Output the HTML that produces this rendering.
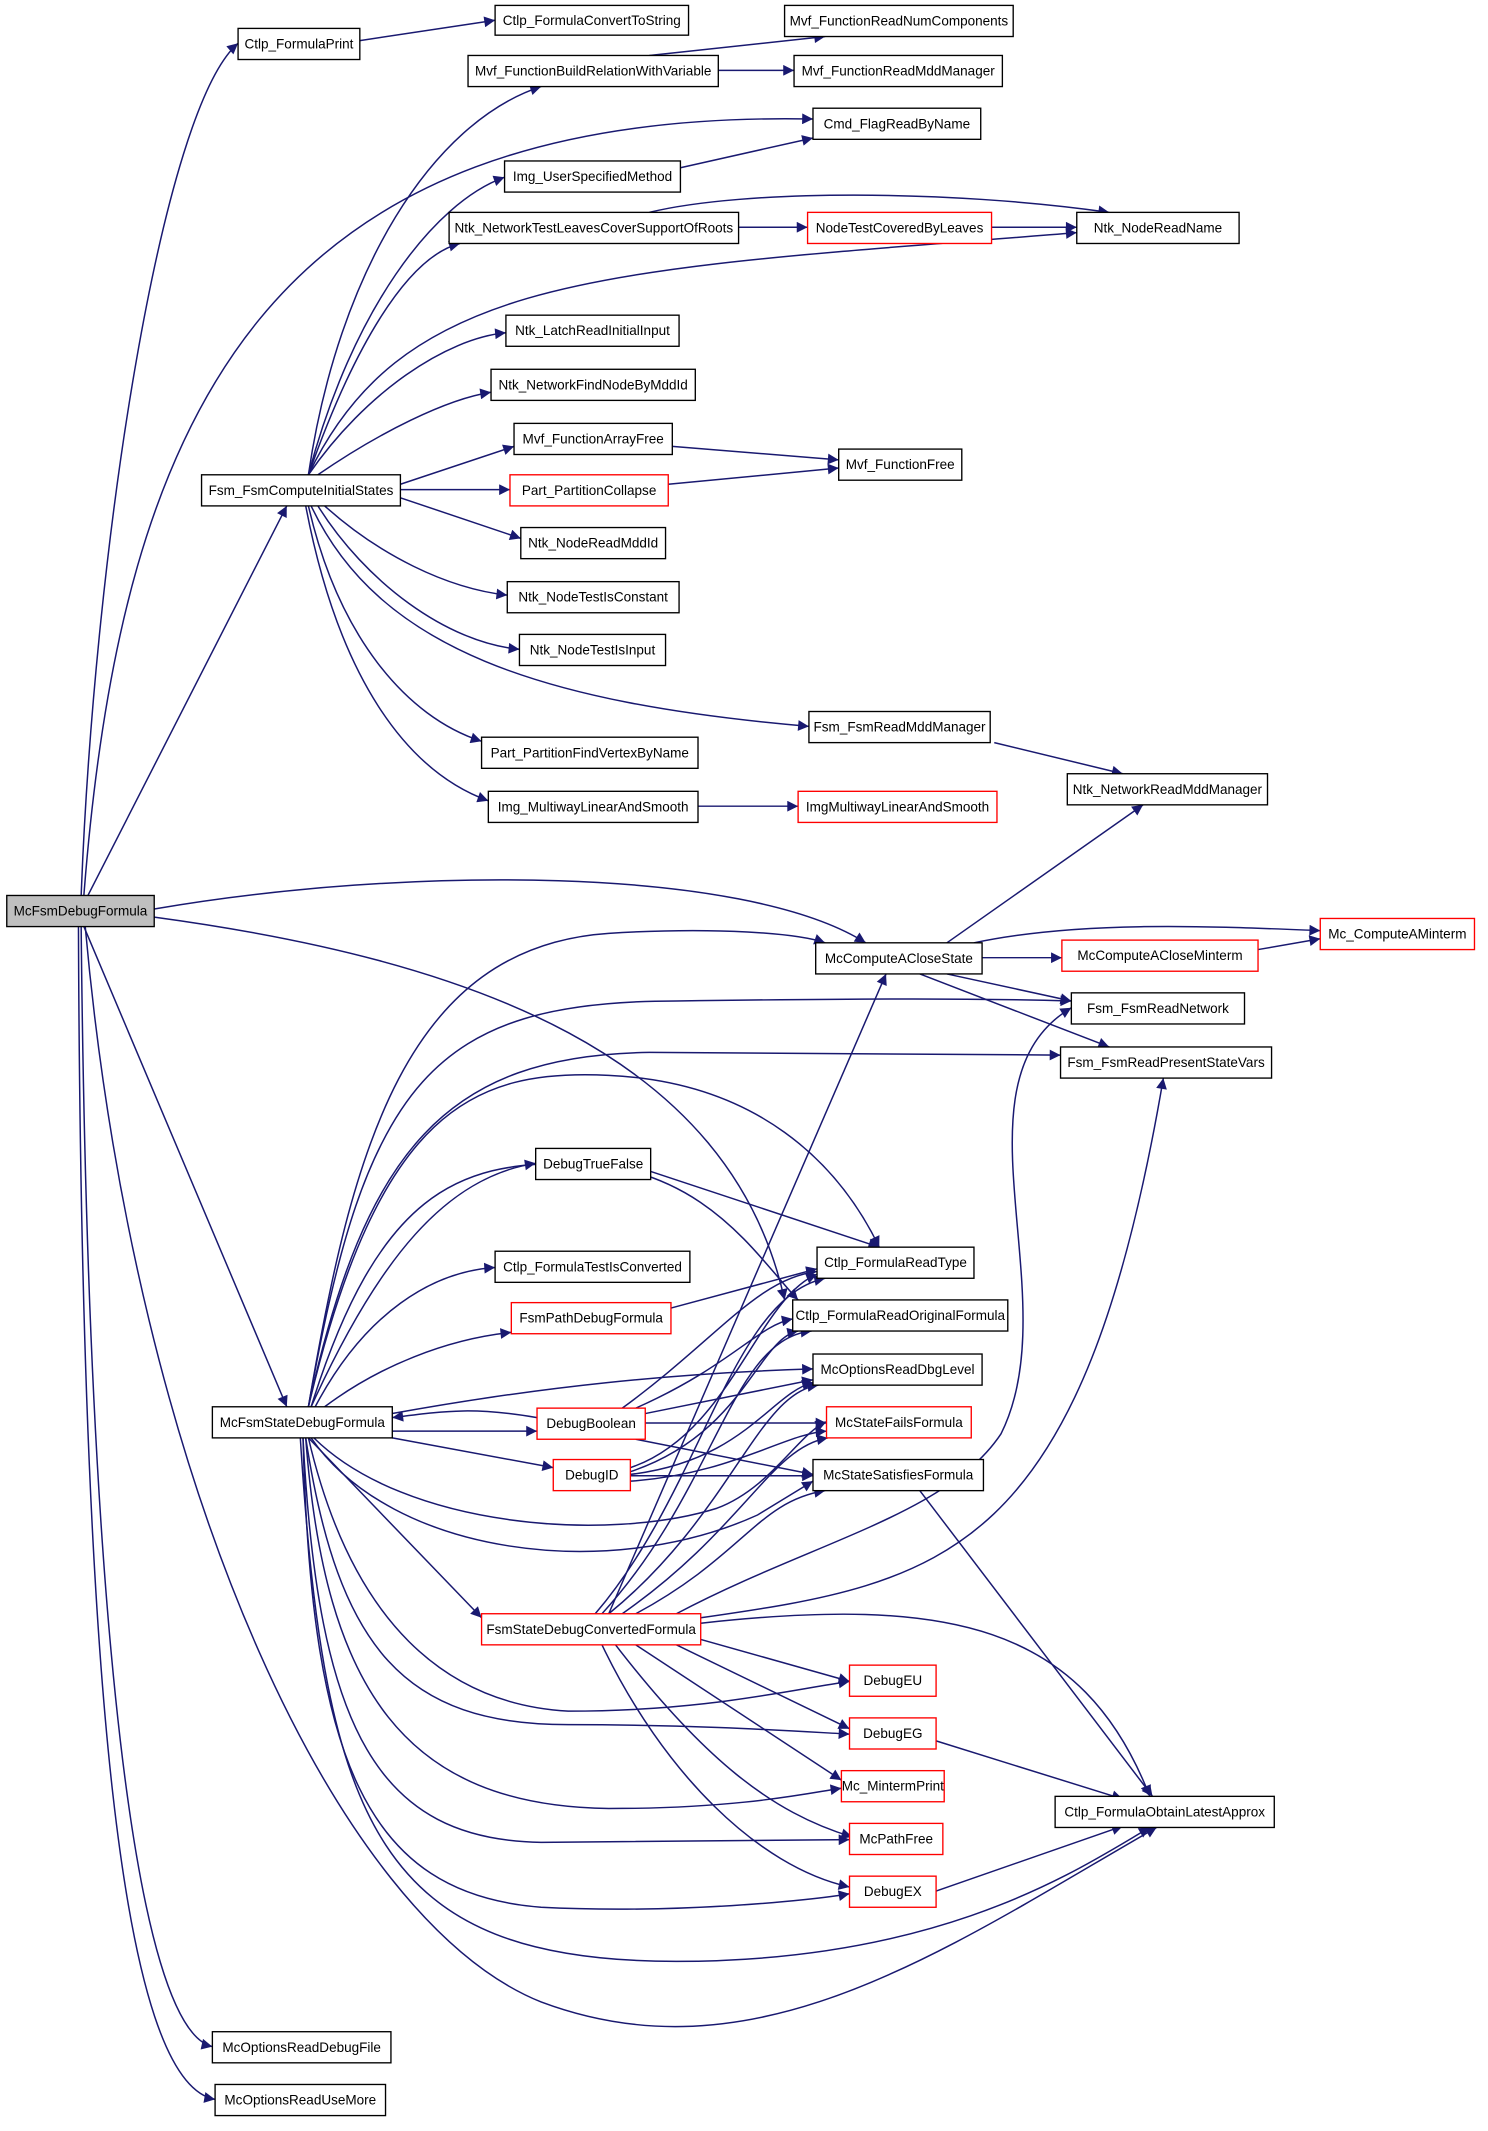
<!DOCTYPE html>
<html><head><meta charset="utf-8"><style>
html,body{margin:0;padding:0;background:#fff;}
svg{display:block;}
text{font-family:"Liberation Sans",sans-serif;font-size:10px;fill:#000;text-anchor:middle;dominant-baseline:central;}
.e{fill:none;stroke:#191970;stroke-width:1.1;marker-end:url(#a);}
.n{fill:#fff;stroke:#000;stroke-width:1;}
.r{fill:#fff;stroke:#ff0000;stroke-width:1;}
</style></head><body>
<svg width="1488" height="2131" viewBox="0 0 1100 1575.4" preserveAspectRatio="none" xmlns="http://www.w3.org/2000/svg">
<defs><marker id="a" viewBox="0 0 10 10" refX="10" refY="5" markerWidth="10" markerHeight="8" markerUnits="userSpaceOnUse" orient="auto"><path d="M0,0 L10,5 L0,10 z" fill="#191970"/></marker></defs>
<g>
<path class="e" d="M60,662 C70,400 120,80 176,32"/>
<path class="e" d="M62,662 C90,300 200,80 601,88"/>
<path class="e" d="M65,662 L212,374"/>
<path class="e" d="M114,672 C300,640 550,640 640,697"/>
<path class="e" d="M114,678 C350,710 540,780 580,961"/>
<path class="e" d="M62,685 L212,1040"/>
<path class="e" d="M63,685 C100,1100 250,1420 400,1480 C560,1540 700,1440 855,1351"/>
<path class="e" d="M60,685 C65,1200 100,1500 157,1513"/>
<path class="e" d="M58,685 C60,1250 90,1540 159,1552"/>
<path class="e" d="M228,351 C250,200 320,90 400,64"/>
<path class="e" d="M228,351 C260,230 320,150 373,131"/>
<path class="e" d="M228,351 C260,260 300,190 340,180"/>
<path class="e" d="M228,351 C300,200 450,200 796,172"/>
<path class="e" d="M228,351 C270,290 330,250 374,246"/>
<path class="e" d="M235,351 C280,320 330,295 363,290"/>
<path class="e" d="M296,358 L380,330"/>
<path class="e" d="M296,362 L377,362"/>
<path class="e" d="M296,368 L385,398"/>
<path class="e" d="M240,374 C280,410 330,435 375,440"/>
<path class="e" d="M235,374 C270,430 330,475 384,480"/>
<path class="e" d="M230,374 C280,480 400,520 598,537"/>
<path class="e" d="M228,374 C250,470 300,530 356,548"/>
<path class="e" d="M226,374 C250,500 300,570 361,592"/>
<path class="e" d="M266,30 L366,15"/>
<path class="e" d="M480,41 L610,27"/>
<path class="e" d="M531,52 L587,52"/>
<path class="e" d="M503,124 L601,102"/>
<path class="e" d="M546,168 L597,168"/>
<path class="e" d="M480,157 C550,140 700,140 820,157"/>
<path class="e" d="M733,168 L796,168"/>
<path class="e" d="M497,330 L620,340"/>
<path class="e" d="M494,358 L620,346"/>
<path class="e" d="M735,549 L830,572"/>
<path class="e" d="M516,596 L590,596"/>
<path class="e" d="M700,697 L845,595"/>
<path class="e" d="M720,697 C800,680 900,685 976,688"/>
<path class="e" d="M726,708 L785,708"/>
<path class="e" d="M930,702 L976,694"/>
<path class="e" d="M700,720 L792,740"/>
<path class="e" d="M680,720 L820,774"/>
<path class="e" d="M228,1040 C260,850 300,700 450,690 C530,685 590,690 610,697"/>
<path class="e" d="M228,1040 C270,800 320,740 500,740 C650,738 720,738 792,740"/>
<path class="e" d="M228,1040 C270,850 330,780 480,778 L784,780"/>
<path class="e" d="M228,1040 C280,820 350,790 450,795 C560,800 620,860 650,922"/>
<path class="e" d="M230,1040 C280,930 330,870 396,860"/>
<path class="e" d="M230,1040 C280,880 340,860 420,860 C520,860 560,930 590,961"/>
<path class="e" d="M233,1040 C270,970 320,940 366,937"/>
<path class="e" d="M240,1040 C280,1010 330,990 378,985"/>
<path class="e" d="M290,1045 C400,1025 500,1015 601,1012"/>
<path class="e" d="M290,1058 L397,1058"/>
<path class="e" d="M397,1048 C350,1040 330,1043 290,1048"/>
<path class="e" d="M290,1063 L409,1085"/>
<path class="e" d="M232,1063 C300,1130 450,1140 530,1115 C570,1100 590,1060 611,1051"/>
<path class="e" d="M230,1063 C290,1150 450,1170 560,1120 L601,1095"/>
<path class="e" d="M228,1063 L356,1196"/>
<path class="e" d="M228,1063 C260,1200 330,1260 420,1265 C520,1265 580,1250 628,1243"/>
<path class="e" d="M226,1063 C250,1220 300,1275 420,1275 C520,1275 590,1280 628,1282"/>
<path class="e" d="M226,1063 C240,1250 300,1335 450,1337 C550,1337 600,1325 622,1322"/>
<path class="e" d="M224,1063 C235,1280 280,1360 400,1362 L628,1360"/>
<path class="e" d="M224,1063 C230,1300 270,1400 400,1410 C500,1415 600,1405 628,1400"/>
<path class="e" d="M222,1063 C240,1350 280,1450 500,1450 C700,1450 800,1380 850,1351"/>
<path class="e" d="M460,1041 C530,990 560,945 604,940"/>
<path class="e" d="M470,1041 C540,1010 560,980 586,975"/>
<path class="e" d="M477,1045 L601,1020"/>
<path class="e" d="M477,1052 L611,1052"/>
<path class="e" d="M470,1064 L601,1090"/>
<path class="e" d="M466,1085 C540,1060 560,960 604,942"/>
<path class="e" d="M466,1088 C550,1060 560,990 590,984"/>
<path class="e" d="M466,1090 C550,1080 570,1030 601,1022"/>
<path class="e" d="M466,1095 C540,1090 580,1060 611,1058"/>
<path class="e" d="M466,1091 L601,1091"/>
<path class="e" d="M450,1193 L655,720"/>
<path class="e" d="M500,1193 C600,1140 700,1120 740,1060 C790,960 700,800 792,745"/>
<path class="e" d="M518,1196 C700,1170 800,1150 860,797"/>
<path class="e" d="M440,1193 C520,1100 540,960 610,945"/>
<path class="e" d="M445,1193 C530,1100 540,990 600,984"/>
<path class="e" d="M450,1193 C540,1120 560,1030 605,1024"/>
<path class="e" d="M460,1193 C550,1130 570,1070 612,1063"/>
<path class="e" d="M470,1193 C550,1150 560,1110 610,1102"/>
<path class="e" d="M518,1200 C700,1180 800,1200 850,1328"/>
<path class="e" d="M518,1212 L628,1243"/>
<path class="e" d="M500,1216 L628,1278"/>
<path class="e" d="M470,1216 L622,1316"/>
<path class="e" d="M455,1216 C520,1300 570,1340 630,1358"/>
<path class="e" d="M445,1216 C490,1310 560,1380 628,1395"/>
<path class="e" d="M680,1102 L852,1328"/>
<path class="e" d="M692,1287 L830,1330"/>
<path class="e" d="M692,1398 L830,1350"/>
<path class="e" d="M481,866 L650,922"/>
<path class="e" d="M496,967 L604,938"/>
</g>
<g>
<rect x="5" y="662" width="109" height="23" fill="#bfbfbf" stroke="#000"/><text x="59.5" y="673.5">McFsmDebugFormula</text>
<rect class="n" x="176" y="21" width="90" height="23"/><text x="221" y="32.5">Ctlp_FormulaPrint</text>
<rect class="n" x="366" y="4" width="143" height="22"/><text x="437.5" y="15">Ctlp_FormulaConvertToString</text>
<rect class="n" x="580" y="4" width="169" height="23"/><text x="664.5" y="15.5">Mvf_FunctionReadNumComponents</text>
<rect class="n" x="346" y="41" width="185" height="23"/><text x="438.5" y="52.5">Mvf_FunctionBuildRelationWithVariable</text>
<rect class="n" x="587" y="41" width="154" height="23"/><text x="664" y="52.5">Mvf_FunctionReadMddManager</text>
<rect class="n" x="601" y="80" width="124" height="23"/><text x="663" y="91.5">Cmd_FlagReadByName</text>
<rect class="n" x="373" y="119" width="130" height="23"/><text x="438" y="130.5">Img_UserSpecifiedMethod</text>
<rect class="n" x="332" y="157" width="214" height="23"/><text x="439" y="168.5">Ntk_NetworkTestLeavesCoverSupportOfRoots</text>
<rect class="r" x="597" y="157" width="136" height="23"/><text x="665" y="168.5">NodeTestCoveredByLeaves</text>
<rect class="n" x="796" y="157" width="120" height="23"/><text x="856" y="168.5">Ntk_NodeReadName</text>
<rect class="n" x="374" y="233" width="128" height="23"/><text x="438" y="244.5">Ntk_LatchReadInitialInput</text>
<rect class="n" x="363" y="273" width="151" height="23"/><text x="438.5" y="284.5">Ntk_NetworkFindNodeByMddId</text>
<rect class="n" x="380" y="313" width="117" height="23"/><text x="438.5" y="324.5">Mvf_FunctionArrayFree</text>
<rect class="n" x="620" y="332" width="91" height="23"/><text x="665.5" y="343.5">Mvf_FunctionFree</text>
<rect class="n" x="149" y="351" width="147" height="23"/><text x="222.5" y="362.5">Fsm_FsmComputeInitialStates</text>
<rect class="r" x="377" y="351" width="117" height="23"/><text x="435.5" y="362.5">Part_PartitionCollapse</text>
<rect class="n" x="385" y="390" width="107" height="23"/><text x="438.5" y="401.5">Ntk_NodeReadMddId</text>
<rect class="n" x="375" y="430" width="127" height="23"/><text x="438.5" y="441.5">Ntk_NodeTestIsConstant</text>
<rect class="n" x="384" y="469" width="108" height="23"/><text x="438" y="480.5">Ntk_NodeTestIsInput</text>
<rect class="n" x="598" y="526" width="134" height="23"/><text x="665" y="537.5">Fsm_FsmReadMddManager</text>
<rect class="n" x="356" y="545" width="160" height="23"/><text x="436" y="556.5">Part_PartitionFindVertexByName</text>
<rect class="n" x="789" y="572" width="148" height="23"/><text x="863" y="583.5">Ntk_NetworkReadMddManager</text>
<rect class="n" x="361" y="585" width="155" height="23"/><text x="438.5" y="596.5">Img_MultiwayLinearAndSmooth</text>
<rect class="r" x="590" y="585" width="147" height="23"/><text x="663.5" y="596.5">ImgMultiwayLinearAndSmooth</text>
<rect class="n" x="603" y="697" width="123" height="23"/><text x="664.5" y="708.5">McComputeACloseState</text>
<rect class="r" x="976" y="679" width="114" height="23"/><text x="1033" y="690.5">Mc_ComputeAMinterm</text>
<rect class="r" x="785" y="695" width="145" height="23"/><text x="857.5" y="706.5">McComputeACloseMinterm</text>
<rect class="n" x="792" y="734" width="128" height="23"/><text x="856" y="745.5">Fsm_FsmReadNetwork</text>
<rect class="n" x="784" y="774" width="156" height="23"/><text x="862" y="785.5">Fsm_FsmReadPresentStateVars</text>
<rect class="n" x="396" y="849" width="85" height="23"/><text x="438.5" y="860.5">DebugTrueFalse</text>
<rect class="n" x="604" y="922" width="116" height="23"/><text x="662" y="933.5">Ctlp_FormulaReadType</text>
<rect class="n" x="366" y="925" width="144" height="23"/><text x="438" y="936.5">Ctlp_FormulaTestIsConverted</text>
<rect class="n" x="586" y="961" width="159" height="23"/><text x="665.5" y="972.5">Ctlp_FormulaReadOriginalFormula</text>
<rect class="r" x="378" y="963" width="118" height="23"/><text x="437" y="974.5">FsmPathDebugFormula</text>
<rect class="n" x="601" y="1001" width="125" height="23"/><text x="663.5" y="1012.5">McOptionsReadDbgLevel</text>
<rect class="n" x="157" y="1040" width="133" height="23"/><text x="223.5" y="1051.5">McFsmStateDebugFormula</text>
<rect class="r" x="397" y="1041" width="80" height="23"/><text x="437" y="1052.5">DebugBoolean</text>
<rect class="r" x="611" y="1040" width="107" height="23"/><text x="664.5" y="1051.5">McStateFailsFormula</text>
<rect class="r" x="409" y="1079" width="57" height="23"/><text x="437.5" y="1090.5">DebugID</text>
<rect class="n" x="601" y="1079" width="126" height="23"/><text x="664" y="1090.5">McStateSatisfiesFormula</text>
<rect class="r" x="356" y="1193" width="162" height="23"/><text x="437" y="1204.5">FsmStateDebugConvertedFormula</text>
<rect class="r" x="628" y="1231" width="64" height="23"/><text x="660" y="1242.5">DebugEU</text>
<rect class="r" x="628" y="1270" width="64" height="23"/><text x="660" y="1281.5">DebugEG</text>
<rect class="r" x="622" y="1309" width="76" height="23"/><text x="660" y="1320.5">Mc_MintermPrint</text>
<rect class="n" x="780" y="1328" width="162" height="23"/><text x="861" y="1339.5">Ctlp_FormulaObtainLatestApprox</text>
<rect class="r" x="628" y="1348" width="69" height="23"/><text x="662.5" y="1359.5">McPathFree</text>
<rect class="r" x="628" y="1387" width="64" height="23"/><text x="660" y="1398.5">DebugEX</text>
<rect class="n" x="157" y="1502" width="132" height="23"/><text x="223" y="1513.5">McOptionsReadDebugFile</text>
<rect class="n" x="159" y="1541" width="126" height="23"/><text x="222" y="1552.5">McOptionsReadUseMore</text>
</g>
</svg>
</body></html>
